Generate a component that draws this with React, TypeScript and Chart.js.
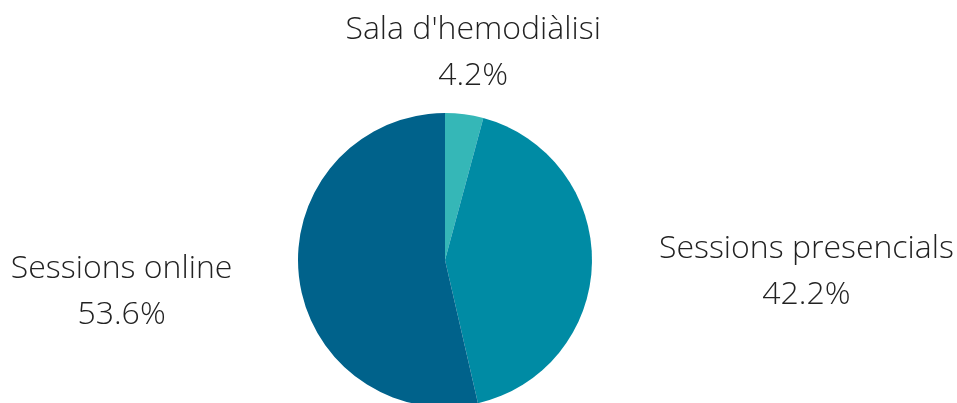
import React, { useEffect, useRef } from "react";
import { Chart, registerables } from "chart.js";

Chart.register(...registerables);

const categories = ["Sala d'hemodiàlisi", "Sessions presencials", "Sessions online"];
const values = [4.2, 42.2, 53.6];
const colors = ["#35b7b7", "#008ba4", "#00628b"];

const FONT = "300 32px 'Open Sans', sans-serif";

const outsideLabels = {
  id: "outsideLabels",
  afterDatasetsDraw(chart: any) {
    const ctx = chart.ctx;
    const meta = chart.getDatasetMeta(0);
    ctx.save();
    ctx.font = FONT;
    ctx.fillStyle = "#222222";
    ctx.textBaseline = "alphabetic";
    meta.data.forEach((arc: any, i: number) => {
      const { x, y, startAngle, endAngle, outerRadius } = arc.getProps(
        ["x", "y", "startAngle", "endAngle", "outerRadius"],
        true
      );
      const mid = (startAngle + endAngle) / 2;
      const dist = outerRadius + 67;
      const ax = x + Math.cos(mid) * dist;
      const ay = y + Math.sin(mid) * dist;
      const c = Math.cos(mid);
      const lines = [categories[i], values[i].toFixed(1) + "%"];
      const widths = lines.map((l) => ctx.measureText(l).width);
      const blockW = Math.max(...widths);
      let cx: number;
      if (c > 0.5) cx = ax + blockW / 2;
      else if (c < -0.5) cx = ax - blockW / 2;
      else cx = ax;
      let base = ay - 6;
      if (Math.abs(c) <= 0.5 && Math.sin(mid) < 0) base = ay - 9;
      ctx.textAlign = "center";
      lines.forEach((l, j) => {
        ctx.fillText(l, cx, base + j * 46);
      });
    });
    ctx.restore();
  },
};

export default function App() {
  const ref = useRef<HTMLCanvasElement | null>(null);
  useEffect(() => {
    if (!ref.current) return;
    const chart = new Chart(ref.current, {
      type: "pie",
      data: {
        labels: categories,
        datasets: [
          {
            data: values,
            backgroundColor: colors,
            borderWidth: 0,
          },
        ],
      },
      options: {
        responsive: false,
        animation: false,
        layout: { padding: { left: 298, right: 365, top: 113, bottom: 13 } },
        plugins: {
          legend: { display: false },
          tooltip: { enabled: false },
        },
      },
      plugins: [outsideLabels],
    });
    return () => chart.destroy();
  }, []);
  return (
    <div
      style={{
        position: "fixed",
        left: 0,
        top: 0,
        width: 957,
        height: 403,
        overflow: "hidden",
        background: "#ffffff",
      }}
    >
      <canvas ref={ref} width={957} height={420} style={{ display: "block" }} />
    </div>
  );
}
